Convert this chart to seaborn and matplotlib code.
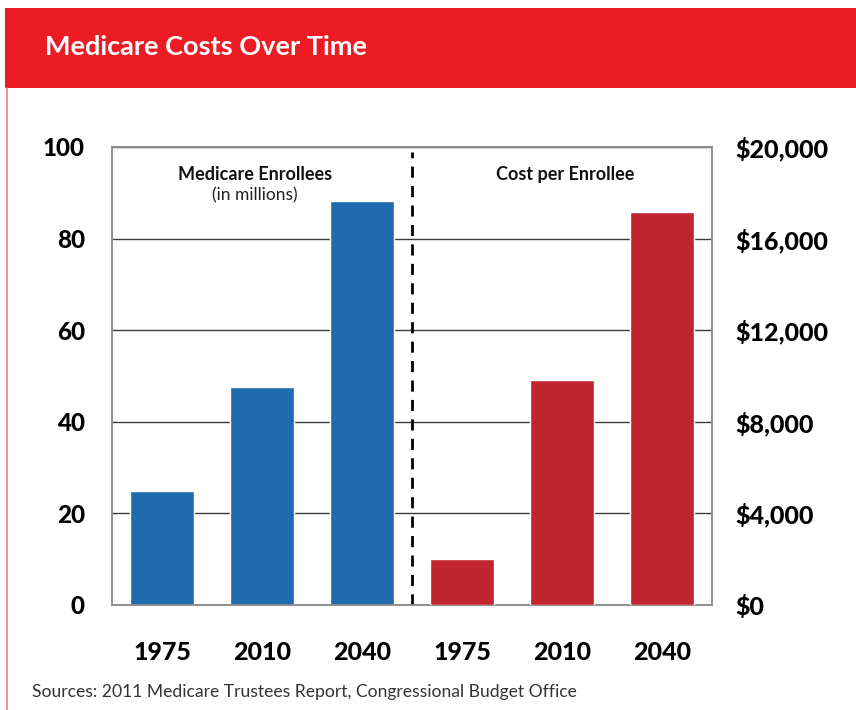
import matplotlib
matplotlib.use("Agg")
import matplotlib.pyplot as plt
from matplotlib.patches import Rectangle
from matplotlib.lines import Line2D
from matplotlib.ticker import FuncFormatter
import pandas as pd
import seaborn as sns

# Chart data
years = ["1975", "2010", "2040"]
enrollees_millions = [25, 47.6, 88.2]
cost_per_enrollee = [2000, 9820, 17160]
left_ticks = [0, 20, 40, 60, 80, 100]
right_ticks = [0, 4000, 8000, 12000, 16000, 20000]

title = "Medicare Costs Over Time"
source = "Sources: 2011 Medicare Trustees Report, Congressional Budget Office"

BLUE = "#1F6BAE"
RED = "#C1262E"
HEADER = "#ED1C24"

sns.set_theme(style="white")
plt.rcParams["font.family"] = ["Lato", "DejaVu Sans"]

slots = [f"e{y}" for y in years] + [f"c{y}" for y in years]
enr = pd.DataFrame({"slot": slots[:3], "value": enrollees_millions})
cst = pd.DataFrame({"slot": slots[3:], "value": cost_per_enrollee})

fig = plt.figure(figsize=(8.56, 7.10), dpi=100)
W, H = 856, 710

# Header band and left rule
fig.patches.append(Rectangle((5 / W, 1 - 88 / H), 1 - 5 / W, 80 / H,
                             transform=fig.transFigure, facecolor=HEADER,
                             edgecolor="none", zorder=0))
fig.lines.append(Line2D([7 / W, 7 / W], [0, 1 - 88 / H], transform=fig.transFigure,
                        color="#E8808A", lw=1.2))
fig.text(45 / W, 1 - 47 / H, title, color="white", fontsize=19.5, fontweight="bold",
         va="center", ha="left")
fig.text(32 / W, 1 - 692 / H, source, color="#333333", fontsize=12.6,
         va="center", ha="left")

ax = fig.add_axes([112 / W, 1 - 605 / H, 600 / W, 458 / H])
ax2 = ax.twinx()

sns.barplot(data=enr, x="slot", y="value", order=slots, color=BLUE, width=0.64,
            saturation=1, ax=ax, zorder=3)
sns.barplot(data=cst, x="slot", y="value", order=slots, color=RED, width=0.64,
            saturation=1, ax=ax2, zorder=3)

ax.set_ylim(0, 100)
ax2.set_ylim(0, 20000)
ax.set_xlim(-0.5, 5.5)
ax.set_yticks(left_ticks)
ax2.set_yticks(right_ticks)
ax2.yaxis.set_major_formatter(FuncFormatter(lambda v, p: f"${v:,.0f}"))
ax.set_xticks(range(6))
ax.set_xticklabels(years + years)

for a in (ax, ax2):
    a.set_xlabel("")
    a.set_ylabel("")
    for s in a.spines.values():
        s.set_color("#8C8C8C")
        s.set_linewidth(1.2)
    a.tick_params(length=0)

ax.yaxis.grid(True, color="#3A3A3A", lw=1, zorder=1)
ax.set_axisbelow(True)
for t in ax.get_yticklabels():
    t.set_fontweight("black")
    t.set_fontsize(17.5)
    t.set_color("black")
    t.set_va("center_baseline")
ax.tick_params(axis="y", pad=19.5)
for t in ax2.get_yticklabels():
    t.set_fontweight("black")
    t.set_fontsize(18)
    t.set_color("black")
    t.set_va("center_baseline")
ax2.tick_params(axis="y", pad=16.5)
for t in ax.get_xticklabels():
    t.set_fontweight("black")
    t.set_fontsize(18)
    t.set_color("black")
ax.tick_params(axis="x", pad=26)

# Divider between the two panels
ax.plot([2.5, 2.5], [0, 99], ls=(0, (4, 3)), color="black", lw=2, zorder=4)

ax.text(0.93, 94, "Medicare Enrollees", ha="center", va="center",
        fontsize=13, fontweight="bold", color="#111111")
ax.text(0.93, 89.5, "(in millions)", ha="center", va="center",
        fontsize=12.5, color="#222222")
ax.text(4.03, 94, "Cost per Enrollee", ha="center", va="center",
        fontsize=13, fontweight="bold", color="#111111")

fig.savefig("out.png", dpi=100)
